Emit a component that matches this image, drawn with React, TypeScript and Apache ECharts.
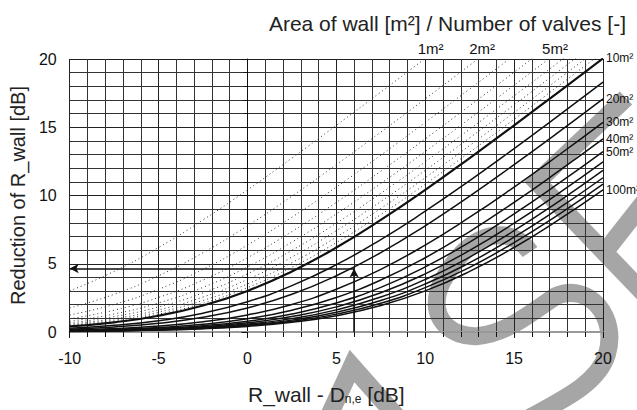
import React, { useEffect, useRef } from "react";
import * as echarts from "echarts";

const xPoints = [-10, -7.5, -5, -2.5, 0, 2.5, 5, 7.5, 10, 12.5, 15, 17.5, 20];

// Dotted curves (area per valve below 10 m²)
const dottedNames = ["1m²", "2m²", "3m²", "4m²", "5m²", "6m²", "7m²", "8m²", "9m²"];
const dottedValues = [
  [3.01, 4.44, 6.19, 8.21, 10.41, 12.74, 15.14, 17.58, 20.04, 22.52, 25.01],
  [1.76, 2.76, 4.12, 5.81, 7.78, 9.95, 12.26, 14.64, 17.08, 19.54, 22.02],
  [1.25, 2.02, 3.13, 4.59, 6.37, 8.41, 10.62, 12.95, 15.36, 17.8, 20.27, 22.75],
  [0.97, 1.6, 2.53, 3.81, 5.44, 7.36, 9.5, 11.78, 14.15, 16.58, 19.03, 21.51],
  [0.79, 1.32, 2.13, 3.27, 4.77, 6.59, 8.65, 10.88, 13.22, 15.63, 18.08, 20.55],
  [0.67, 1.13, 1.84, 2.87, 4.26, 5.98, 7.97, 10.16, 12.47, 14.86, 17.3, 19.76, 22.22],
  [0.58, 0.98, 1.62, 2.56, 3.85, 5.49, 7.42, 9.56, 11.84, 14.22, 16.64, 19.1, 21.58],
  [0.51, 0.87, 1.45, 2.31, 3.52, 5.08, 6.95, 9.05, 11.3, 13.66, 16.08, 18.53, 21.0],
  [0.46, 0.78, 1.31, 2.11, 3.25, 4.74, 6.55, 8.6, 10.83, 13.17, 15.58, 18.03, 20.5],
];
// labelled dotted curves and where they leave the top of the chart
const topLabelIndex = [0, 1, 4];
const topLabelX = [10.3, 13.2, 17.3];

// Solid curves (area per valve 10 m² and above)
const solidNames = ["10m²", "15m²", "20m²", "30m²", "40m²", "50m²", "60m²", "70m²", "80m²", "90m²", "100m²"];
const solidLabelled = [true, false, true, true, true, true, false, false, false, false, true];
const solidThick = [true, false, false, false, false, false, false, false, false, false, false];
const solidValues = [
  [0.41, 0.71, 1.19, 1.94, 3.01, 4.44, 6.19, 8.21, 10.41, 12.74, 15.14, 17.58, 20.04],
  [0.28, 0.49, 0.83, 1.38, 2.22, 3.4, 4.93, 6.77, 8.85, 11.09, 13.44, 15.85, 18.3],
  [0.21, 0.37, 0.64, 1.08, 1.76, 2.76, 4.12, 5.81, 7.78, 9.95, 12.26, 14.64, 17.08],
  [0.14, 0.25, 0.44, 0.75, 1.25, 2.02, 3.13, 4.59, 6.37, 8.41, 10.62, 12.95, 15.36],
  [0.11, 0.19, 0.33, 0.57, 0.97, 1.6, 2.53, 3.81, 5.44, 7.36, 9.5, 11.78, 14.15],
  [0.09, 0.15, 0.27, 0.46, 0.79, 1.32, 2.13, 3.27, 4.77, 6.59, 8.65, 10.88, 13.22],
  [0.07, 0.13, 0.22, 0.39, 0.67, 1.13, 1.84, 2.87, 4.26, 5.98, 7.97, 10.16, 12.47],
  [0.06, 0.11, 0.19, 0.34, 0.58, 0.98, 1.62, 2.56, 3.85, 5.49, 7.42, 9.56, 11.84],
  [0.05, 0.1, 0.17, 0.3, 0.51, 0.87, 1.45, 2.31, 3.52, 5.08, 6.95, 9.05, 11.3],
  [0.05, 0.09, 0.15, 0.26, 0.46, 0.78, 1.31, 2.11, 3.25, 4.74, 6.55, 8.6, 10.83],
  [0.04, 0.08, 0.14, 0.24, 0.41, 0.71, 1.19, 1.94, 3.01, 4.44, 6.19, 8.21, 10.41],
];

// Example reading (arrows)
const exampleX = 6;
const exampleY = 4.65;

// gray marker-stroke overlay seen in the picture (decoration, not data)
const WATERMARK_PARTS = [
  [[626, 98], [537, 182], [652, 302]],
  [[652, 192], [600, 258]],
  [[328, 418], [352, 366], [398, 418]],
];
const WATERMARK_CURVE =
  "M 530 252 C 512 226 472 226 442 282 C 425 318 452 338 478 336 C 508 333 532 312 556 296 C 590 282 618 318 607 354 C 598 384 562 400 522 422";

const FONT = "'Liberation Sans', Arial, Helvetica, sans-serif";
const WM_COLOR = "#a6a6a6";

export default function App() {
  const ref = useRef<HTMLDivElement>(null);
  useEffect(() => {
    if (!ref.current) return;
    const chart = echarts.init(ref.current, null, { renderer: "svg" });
    const series: any[] = [];
    series.push({
      type: "custom",
      coordinateSystem: "none",
      silent: true,
      z: 1,
      data: [0],
      renderItem: () => ({
        type: "group",
        children: [
          ...WATERMARK_PARTS.map((pts) => ({
            type: "polyline",
            shape: { points: pts },
            style: { fill: null, stroke: WM_COLOR, lineWidth: 18, lineCap: "butt", lineJoin: "miter" },
          })),
          {
            type: "path",
            shape: { pathData: WATERMARK_CURVE },
            style: { fill: null, stroke: WM_COLOR, lineWidth: 18, lineCap: "butt" },
          },
        ],
      }),
    });
    dottedValues.forEach((vals, i) => {
      const s: any = {
        type: "line",
        name: dottedNames[i],
        data: vals.map((v, j) => [xPoints[j], v]),
        smooth: true,
        showSymbol: false,
        silent: true,
        clip: true,
        lineStyle: { color: "#333", width: 1, type: [1, 3] },
        z: 4,
      };
      const li = topLabelIndex.indexOf(i);
      if (li >= 0) {
        s.markPoint = {
          symbol: "circle",
          symbolSize: 0,
          silent: true,
          data: [{ coord: [topLabelX[li], 20] }],
          label: {
            show: true,
            position: "top",
            distance: 3,
            formatter: dottedNames[i],
            color: "#111",
            fontSize: 15,
            fontFamily: FONT,
          },
        };
      }
      series.push(s);
    });
    solidValues.forEach((vals, i) => {
      series.push({
        type: "line",
        name: solidNames[i],
        data: vals.map((v, j) => [xPoints[j], v]),
        smooth: true,
        showSymbol: false,
        silent: true,
        clip: true,
        lineStyle: { color: "#111", width: solidThick[i] ? 2.2 : 1.5 },
        z: 5,
        endLabel: solidLabelled[i]
          ? {
              show: true,
              formatter: solidNames[i],
              distance: 3,
              color: "#111",
              fontSize: 12,
              fontFamily: FONT,
            }
          : { show: false },
      });
    });
    series.push({
      type: "line",
      data: [],
      silent: true,
      markLine: {
        silent: true,
        symbol: ["none", "arrow"],
        symbolSize: [7, 9],
        lineStyle: { color: "#111", width: 1.5, type: "solid" },
        label: { show: false },
        data: [
          [{ coord: [exampleX, 0] }, { coord: [exampleX, exampleY] }],
          [{ coord: [exampleX, exampleY] }, { coord: [-10, exampleY] }],
        ],
      },
      z: 7,
    });

    chart.setOption({
      animation: false,
      backgroundColor: "#fff",
      title: {
        text: "Area of wall [m²] / Number of valves [-]",
        right: 6,
        top: 8,
        textStyle: { fontFamily: FONT, fontSize: 21, fontWeight: "normal", color: "#222" },
      },
      grid: { left: 66, right: 34, top: 59, bottom: 78 },
      xAxis: {
        type: "value",
        z: 3,
        min: -10,
        max: 20,
        interval: 5,
        name: "{a|R_wall - D}{b|n,e}{a| [dB]}",
        nameLocation: "middle",
        nameGap: 49,
        nameTextStyle: {
          padding: [0, 20, 0, 0],
          rich: {
            a: { fontFamily: FONT, fontSize: 21, color: "#222", lineHeight: 24, verticalAlign: "bottom" },
            b: { fontFamily: FONT, fontSize: 12, color: "#222", lineHeight: 12, verticalAlign: "bottom", padding: [14, 0, 0, 0] },
          },
        },
        axisLine: { show: true, lineStyle: { color: "#999", width: 2 } },
        axisTick: { show: true, length: 6, lineStyle: { color: "#111", width: 1 } },
        minorTick: { show: true, splitNumber: 5, length: 5, lineStyle: { color: "#111", width: 1 } },
        axisLabel: { color: "#111", fontSize: 16, fontFamily: FONT, margin: 18 },
        splitLine: { show: true, lineStyle: { color: "#222", width: 1 } },
        minorSplitLine: { show: true, lineStyle: { color: "#333", width: 1 } },
      },
      yAxis: {
        type: "value",
        z: 3,
        min: 0,
        max: 20,
        interval: 5,
        name: "Reduction of R_wall [dB]",
        nameLocation: "middle",
        nameGap: 38,
        nameTextStyle: { fontFamily: FONT, fontSize: 20, color: "#222" },
        axisLine: { show: true, lineStyle: { color: "#111", width: 1 } },
        axisTick: { show: true, length: 6, lineStyle: { color: "#111", width: 1 } },
        minorTick: { show: true, splitNumber: 5, length: 4, lineStyle: { color: "#111", width: 1 } },
        axisLabel: { color: "#111", fontSize: 16, fontFamily: FONT, margin: 13 },
        splitLine: { show: true, lineStyle: { color: "#222", width: 1 } },
        minorSplitLine: { show: true, lineStyle: { color: "#333", width: 1 } },
      },
      series,
    });
    return () => chart.dispose();
  }, []);
  return <div ref={ref} style={{ width: 637, height: 410, position: "absolute", left: 0, top: 0 }} />;
}
